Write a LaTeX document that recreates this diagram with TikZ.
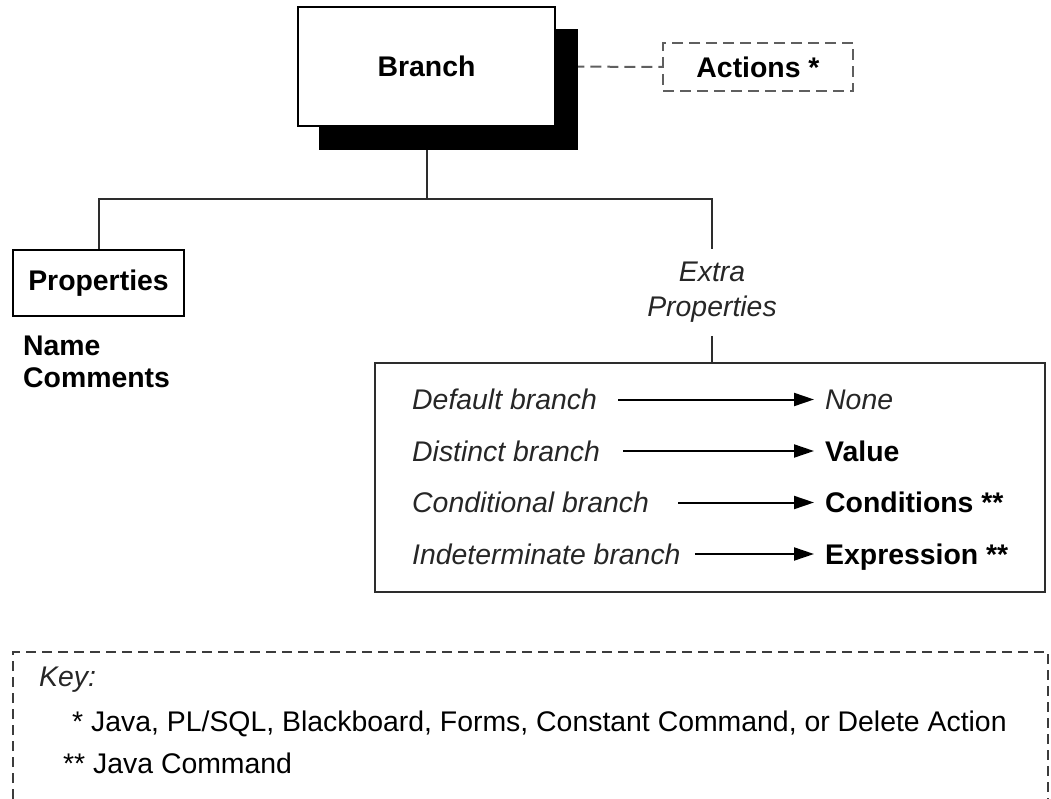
\documentclass[tikz,border=0pt]{standalone}
\usepackage{fontspec}
\setmainfont{Liberation Sans}
\usepackage{xcolor}
\usetikzlibrary{arrows.meta, positioning, calc, shadows, backgrounds}

\definecolor{linegray}{RGB}{45,45,45}
\definecolor{dashgray}{RGB}{95,95,95}
\definecolor{keygray}{RGB}{60,60,60}
\newcommand{\diafont}{\fontsize{28.4}{32}\selectfont}

\begin{document}
\begin{tikzpicture}[
    x=1pt, y=-1pt,
    line/.style={draw=linegray, line width=2pt},
    dashline/.style={draw=dashgray, line width=2pt, dash pattern=on 11pt off 6pt},
    keyline/.style={draw=keygray, line width=2pt, dash pattern=on 10pt off 6pt},
    branchbox/.style={draw=black, line width=2.5pt, fill=white, font=\diafont\bfseries,
        minimum width=257pt, minimum height=119pt,
        general shadow={fill=black, draw=black, line width=2.5pt, shadow xshift=22pt, shadow yshift=-23pt}},
    propbox/.style={draw=black, line width=2pt, fill=white, font=\diafont\bfseries,
        minimum width=171pt, minimum height=66pt},
    actbox/.style={dashline, fill=white, font=\diafont\bfseries, minimum width=190pt, minimum height=48pt},
    tablebox/.style={draw=linegray, line width=2pt, minimum width=670pt, minimum height=229pt},
    lbl/.style={inner sep=0pt, anchor=west, text height=20.3pt, text depth=0pt},
    itlbl/.style={lbl, font=\diafont\itshape, text=black!85},
    bflbl/.style={lbl, font=\diafont\bfseries},
    arr/.style={draw=black, line width=2pt, -{Triangle[length=20pt, width=13pt]}, shorten >=11pt}
]
    \useasboundingbox (0,0) rectangle (1051,799);

    % Top row
    \node[branchbox] (branch) at (426.5, 66.5) {Branch};
    \node[actbox] (actions) at (758, 67) {Actions *};
    \coordinate (fork) at (426.5, 199);

    % Left side
    \node[propbox] (props) at (98.5, 283) {Properties};
    \node[anchor=north west, inner sep=0pt, align=left, font=\diafont\bfseries] (propnames) at (23, 336) {Name\\Comments};

    % Right side
    \node[anchor=north, inner xsep=0pt, inner ysep=13pt, align=center, font=\diafont\itshape, text=black!85] (extra) at (712, 249) {Extra\\[3pt]Properties};
    \node[tablebox] (extrabox) at (710, 477.5) {};

    \node[itlbl] (dflt) at (412, 399.5) {Default branch};
    \node[itlbl] (dist) at (412, 451) {Distinct branch};
    \node[itlbl] (cond) at (412, 502.5) {Conditional branch};
    \node[itlbl] (indet) at (412, 554) {Indeterminate branch};

    \node[itlbl] (none) at (825, 399.5) {None};
    \node[bflbl] (value) at (825, 451) {Value};
    \node[bflbl] (conds) at (825, 502.5) {Conditions **};
    \node[bflbl] (expr) at (825, 554) {Expression **};

    \draw[arr, shorten <=21pt] (dflt.east) -- (none.west);
    \draw[arr, shorten <=23pt] (dist.east) -- (value.west);
    \draw[arr, shorten <=29pt] (cond.east) -- (conds.west);
    \draw[arr, shorten <=14pt] (indet.east) -- (expr.west);

    % Connectors behind the boxes
    \begin{scope}[on background layer]
        \draw[line] (branch.south) -- (fork);
        \draw[line] (props.north) |- (fork) -| (extra.north);
        \draw[line] (extra.south) -- (extra.south |- extrabox.north);
        \draw[dashline] (branch.east) -- (actions.west);
    \end{scope}

    % Key
    \draw[keyline] (13, 799) -- (13, 652) -- (1048, 652) -- (1048, 799);
    \node[itlbl] (keyhead) at (39, 676.5) {Key:};
    \node[lbl, font=\diafont] (keyone) at (72, 721.5) {* Java, PL/SQL, Blackboard, Forms, Constant Command, or Delete Action};
    \node[lbl, font=\diafont] (keytwo) at (63, 763.5) {** Java Command};

\end{tikzpicture}
\end{document}
